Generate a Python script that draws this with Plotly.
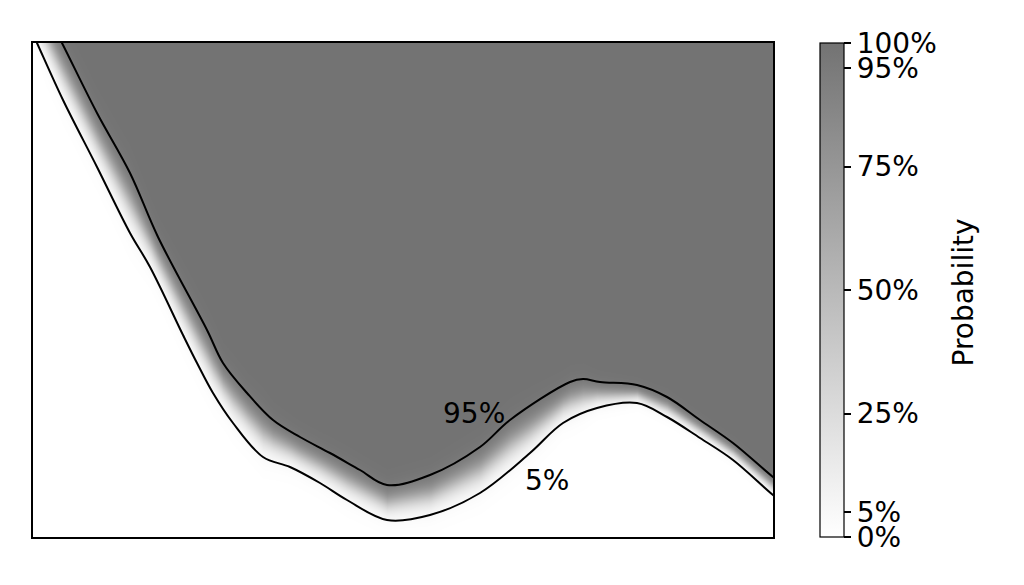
import numpy as np
import plotly.graph_objects as go

# 95% contour (upper boundary), data units
x95 = [12, 29, 64, 97, 125, 174, 190, 214, 240, 267, 297, 327, 354, 397, 447, 477, 537, 550, 567, 604, 634, 667, 700, 740, 757]
y95 = [527, 494, 424, 364, 300, 207, 174, 144, 117, 100, 84, 67, 52, 62, 90, 117, 155, 158, 155, 152, 140, 117, 94, 60, 47]

# 5% contour (lower boundary), data units
x5 = [-2, 4, 30, 64, 97, 117, 150, 164, 180, 200, 230, 257, 287, 314, 354, 397, 447, 497, 530, 564, 604, 634, 667, 700, 740, 757]
y5 = [507, 494, 437, 370, 304, 270, 202, 174, 144, 114, 80, 70, 54, 37, 17, 22, 44, 84, 114, 129, 134, 120, 99, 77, 42, 29]

cbar_vals = [0, 0.05, 0.25, 0.5, 0.75, 0.95, 1.0]
cbar_text = ["0%", "5%", "25%", "50%", "75%", "95%", "100%"]

X_MAX, Y_MAX = 740, 494

gx = np.arange(0, X_MAX + 2, 2.0)
gy = np.arange(0, Y_MAX + 2, 2.0)
up = np.interp(gx, x95, y95)
lo = np.interp(gx, x5, y5)
mid = (up + lo) / 2
scale = (up - lo) / (2 * np.log(19))
Z = 1.0 / (1.0 + np.exp(-(gy[:, None] - mid[None, :]) / scale[None, :]))

font = "DejaVu Sans"
FS = 28

fig = go.Figure()
fig.add_trace(go.Heatmap(
    x=gx, y=gy, z=Z, zmin=0, zmax=1, zsmooth="best",
    colorscale=[[0, "rgb(255,255,255)"], [1, "rgb(115,115,115)"]],
    hoverinfo="skip",
    colorbar=dict(
        thickness=24, thicknessmode="pixels", len=1, lenmode="fraction",
        x=1.0635, xanchor="left", y=0.5, yanchor="middle", xpad=0, ypad=0,
        outlinewidth=1.2, outlinecolor="black",
        tickmode="array", tickvals=cbar_vals, ticktext=cbar_text,
        ticks="outside", ticklen=7, tickwidth=1.5, tickcolor="black",
        tickfont=dict(family=font, size=FS, color="black"),
    ),
))
fig.add_trace(go.Scatter(x=x95, y=y95, mode="lines", line=dict(color="black", width=2, shape="spline"),
                         hoverinfo="skip", showlegend=False))
fig.add_trace(go.Scatter(x=x5, y=y5, mode="lines", line=dict(color="black", width=2, shape="spline"),
                         hoverinfo="skip", showlegend=False))

fig.add_annotation(x=441, y=124, text="95%", showarrow=False, font=dict(family=font, size=FS, color="black"))
fig.add_annotation(x=514, y=57, text="5%", showarrow=False, font=dict(family=font, size=FS, color="black"))
fig.add_annotation(x=1.2568, y=0.495, xref="paper", yref="paper", text="Probability", textangle=-90,
                   showarrow=False, xanchor="center", yanchor="middle",
                   font=dict(family=font, size=FS, color="black"))

fig.update_xaxes(range=[0, X_MAX], showticklabels=False, ticks="", showgrid=False, zeroline=False,
                 showline=True, mirror=True, linecolor="black", linewidth=1.5)
fig.update_yaxes(range=[0, Y_MAX], showticklabels=False, ticks="", showgrid=False, zeroline=False,
                 showline=True, mirror=True, linecolor="black", linewidth=1.5)
fig.update_layout(
    width=1016, height=577,
    margin=dict(l=25, r=251, t=35, b=48),
    plot_bgcolor="white", paper_bgcolor="white",
    showlegend=False,
)
fig.write_html("out.html")
